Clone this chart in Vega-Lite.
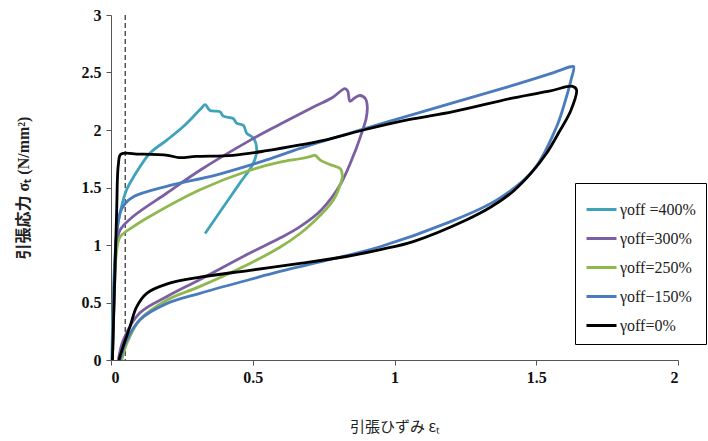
{
  "$schema": "https://vega.github.io/schema/vega-lite/v6.json",
  "width": 567,
  "height": 345,
  "autosize": {"type": "none"},
  "padding": {"left": 111, "top": 15, "right": 30, "bottom": 81},
  "config": {"view": {"stroke": null}},
  "datasets": {
    "curves": [
      {"s":"γoff =400%","i":0,"x":0.003,"y":0},{"s":"γoff =400%","i":1,"x":0.01,"y":0.7},{"s":"γoff =400%","i":2,"x":0.02,"y":1.1},{"s":"γoff =400%","i":3,"x":0.032,"y":1.28},{"s":"γoff =400%","i":4,"x":0.055,"y":1.48},{"s":"γoff =400%","i":5,"x":0.079,"y":1.59},{"s":"γoff =400%","i":6,"x":0.138,"y":1.8},{"s":"γoff =400%","i":7,"x":0.196,"y":1.91},{"s":"γoff =400%","i":8,"x":0.255,"y":2.03},{"s":"γoff =400%","i":9,"x":0.315,"y":2.18},{"s":"γoff =400%","i":10,"x":0.332,"y":2.22},{"s":"γoff =400%","i":11,"x":0.349,"y":2.17},{"s":"γoff =400%","i":12,"x":0.384,"y":2.16},{"s":"γoff =400%","i":13,"x":0.396,"y":2.12},{"s":"γoff =400%","i":14,"x":0.431,"y":2.1},{"s":"γoff =400%","i":15,"x":0.443,"y":2.06},{"s":"γoff =400%","i":16,"x":0.467,"y":2.04},{"s":"γoff =400%","i":17,"x":0.479,"y":1.97},{"s":"γoff =400%","i":18,"x":0.502,"y":1.93},{"s":"γoff =400%","i":19,"x":0.514,"y":1.83},{"s":"γoff =400%","i":20,"x":0.502,"y":1.71},{"s":"γoff =400%","i":21,"x":0.455,"y":1.54},{"s":"γoff =400%","i":22,"x":0.396,"y":1.33},{"s":"γoff =400%","i":23,"x":0.332,"y":1.1},

      {"s":"γoff=300%","i":0,"x":0.005,"y":0},{"s":"γoff=300%","i":1,"x":0.012,"y":0.6},{"s":"γoff=300%","i":2,"x":0.02,"y":1.0},{"s":"γoff=300%","i":3,"x":0.032,"y":1.13},{"s":"γoff=300%","i":4,"x":0.079,"y":1.25},{"s":"γoff=300%","i":5,"x":0.196,"y":1.45},{"s":"γoff=300%","i":6,"x":0.314,"y":1.65},{"s":"γoff=300%","i":7,"x":0.49,"y":1.91},{"s":"γoff=300%","i":8,"x":0.596,"y":2.05},{"s":"γoff=300%","i":9,"x":0.714,"y":2.2},{"s":"γoff=300%","i":10,"x":0.78,"y":2.28},{"s":"γoff=300%","i":11,"x":0.825,"y":2.36},{"s":"γoff=300%","i":12,"x":0.835,"y":2.34},{"s":"γoff=300%","i":13,"x":0.843,"y":2.25},{"s":"γoff=300%","i":14,"x":0.86,"y":2.28},{"s":"γoff=300%","i":15,"x":0.878,"y":2.3},{"s":"γoff=300%","i":16,"x":0.898,"y":2.27},{"s":"γoff=300%","i":17,"x":0.904,"y":2.2},{"s":"γoff=300%","i":18,"x":0.9,"y":2.1},{"s":"γoff=300%","i":19,"x":0.885,"y":1.98},{"s":"γoff=300%","i":20,"x":0.865,"y":1.84},{"s":"γoff=300%","i":21,"x":0.81,"y":1.53},{"s":"γoff=300%","i":22,"x":0.74,"y":1.3},{"s":"γoff=300%","i":23,"x":0.667,"y":1.16},{"s":"γoff=300%","i":24,"x":0.596,"y":1.06},{"s":"γoff=300%","i":25,"x":0.49,"y":0.93},{"s":"γoff=300%","i":26,"x":0.314,"y":0.7},{"s":"γoff=300%","i":27,"x":0.196,"y":0.55},{"s":"γoff=300%","i":28,"x":0.102,"y":0.41},{"s":"γoff=300%","i":29,"x":0.043,"y":0.17},{"s":"γoff=300%","i":30,"x":0.026,"y":0},

      {"s":"γoff=250%","i":0,"x":0.005,"y":0},{"s":"γoff=250%","i":1,"x":0.012,"y":0.6},{"s":"γoff=250%","i":2,"x":0.02,"y":0.95},{"s":"γoff=250%","i":3,"x":0.032,"y":1.07},{"s":"γoff=250%","i":4,"x":0.079,"y":1.16},{"s":"γoff=250%","i":5,"x":0.138,"y":1.25},{"s":"γoff=250%","i":6,"x":0.314,"y":1.48},{"s":"γoff=250%","i":7,"x":0.49,"y":1.65},{"s":"γoff=250%","i":8,"x":0.596,"y":1.72},{"s":"γoff=250%","i":9,"x":0.667,"y":1.75},{"s":"γoff=250%","i":10,"x":0.705,"y":1.77},{"s":"γoff=250%","i":11,"x":0.72,"y":1.78},{"s":"γoff=250%","i":12,"x":0.737,"y":1.74},{"s":"γoff=250%","i":13,"x":0.772,"y":1.7},{"s":"γoff=250%","i":14,"x":0.81,"y":1.66},{"s":"γoff=250%","i":15,"x":0.816,"y":1.6},{"s":"γoff=250%","i":16,"x":0.812,"y":1.55},{"s":"γoff=250%","i":17,"x":0.784,"y":1.39},{"s":"γoff=250%","i":18,"x":0.714,"y":1.2},{"s":"γoff=250%","i":19,"x":0.667,"y":1.1},{"s":"γoff=250%","i":20,"x":0.596,"y":0.98},{"s":"γoff=250%","i":21,"x":0.49,"y":0.84},{"s":"γoff=250%","i":22,"x":0.314,"y":0.64},{"s":"γoff=250%","i":23,"x":0.196,"y":0.52},{"s":"γoff=250%","i":24,"x":0.102,"y":0.35},{"s":"γoff=250%","i":25,"x":0.055,"y":0.14},{"s":"γoff=250%","i":26,"x":0.038,"y":0},

      {"s":"γoff−150%","i":0,"x":0.005,"y":0},{"s":"γoff−150%","i":1,"x":0.012,"y":0.7},{"s":"γoff−150%","i":2,"x":0.02,"y":1.1},{"s":"γoff−150%","i":3,"x":0.032,"y":1.28},{"s":"γoff−150%","i":4,"x":0.05,"y":1.36},{"s":"γoff−150%","i":5,"x":0.079,"y":1.42},{"s":"γoff−150%","i":6,"x":0.196,"y":1.51},{"s":"γoff−150%","i":7,"x":0.373,"y":1.61},{"s":"γoff−150%","i":8,"x":0.549,"y":1.74},{"s":"γoff−150%","i":9,"x":0.667,"y":1.84},{"s":"γoff−150%","i":10,"x":0.878,"y":2.0},{"s":"γoff−150%","i":11,"x":1.03,"y":2.11},{"s":"γoff−150%","i":12,"x":1.184,"y":2.22},{"s":"γoff−150%","i":13,"x":1.42,"y":2.39},{"s":"γoff−150%","i":14,"x":1.55,"y":2.49},{"s":"γoff−150%","i":15,"x":1.622,"y":2.55},{"s":"γoff−150%","i":16,"x":1.632,"y":2.55},{"s":"γoff−150%","i":17,"x":1.622,"y":2.43},{"s":"γoff−150%","i":18,"x":1.602,"y":2.25},{"s":"γoff−150%","i":19,"x":1.572,"y":2.03},{"s":"γoff−150%","i":20,"x":1.49,"y":1.65},{"s":"γoff−150%","i":21,"x":1.36,"y":1.39},{"s":"γoff−150%","i":22,"x":1.184,"y":1.19},{"s":"γoff−150%","i":23,"x":0.949,"y":0.985},{"s":"γoff−150%","i":24,"x":0.714,"y":0.84},{"s":"γoff−150%","i":25,"x":0.596,"y":0.77},{"s":"γoff−150%","i":26,"x":0.49,"y":0.7},{"s":"γoff−150%","i":27,"x":0.314,"y":0.58},{"s":"γoff−150%","i":28,"x":0.196,"y":0.49},{"s":"γoff−150%","i":29,"x":0.102,"y":0.35},{"s":"γoff−150%","i":30,"x":0.055,"y":0.17},{"s":"γoff−150%","i":31,"x":0.032,"y":0},

      {"s":"γoff=0%","i":0,"x":0.005,"y":0},{"s":"γoff=0%","i":1,"x":0.012,"y":0.6},{"s":"γoff=0%","i":2,"x":0.02,"y":1.3},{"s":"γoff=0%","i":3,"x":0.026,"y":1.7},{"s":"γoff=0%","i":4,"x":0.035,"y":1.79},{"s":"γoff=0%","i":5,"x":0.1,"y":1.79},{"s":"γoff=0%","i":6,"x":0.2,"y":1.78},{"s":"γoff=0%","i":7,"x":0.24,"y":1.76},{"s":"γoff=0%","i":8,"x":0.3,"y":1.77},{"s":"γoff=0%","i":9,"x":0.43,"y":1.78},{"s":"γoff=0%","i":10,"x":0.55,"y":1.82},{"s":"γoff=0%","i":11,"x":0.667,"y":1.87},{"s":"γoff=0%","i":12,"x":0.75,"y":1.91},{"s":"γoff=0%","i":13,"x":0.89,"y":2.0},{"s":"γoff=0%","i":14,"x":1.05,"y":2.09},{"s":"γoff=0%","i":15,"x":1.207,"y":2.16},{"s":"γoff=0%","i":16,"x":1.42,"y":2.28},{"s":"γoff=0%","i":17,"x":1.55,"y":2.34},{"s":"γoff=0%","i":18,"x":1.628,"y":2.38},{"s":"γoff=0%","i":19,"x":1.642,"y":2.35},{"s":"γoff=0%","i":20,"x":1.622,"y":2.17},{"s":"γoff=0%","i":21,"x":1.58,"y":1.98},{"s":"γoff=0%","i":22,"x":1.537,"y":1.8},{"s":"γoff=0%","i":23,"x":1.48,"y":1.62},{"s":"γoff=0%","i":24,"x":1.42,"y":1.47},{"s":"γoff=0%","i":25,"x":1.34,"y":1.33},{"s":"γoff=0%","i":26,"x":1.255,"y":1.22},{"s":"γoff=0%","i":27,"x":1.066,"y":1.03},{"s":"γoff=0%","i":28,"x":0.95,"y":0.96},{"s":"γoff=0%","i":29,"x":0.83,"y":0.9},{"s":"γoff=0%","i":30,"x":0.667,"y":0.84},{"s":"γoff=0%","i":31,"x":0.49,"y":0.78},{"s":"γoff=0%","i":32,"x":0.314,"y":0.72},{"s":"γoff=0%","i":33,"x":0.196,"y":0.66},{"s":"γoff=0%","i":34,"x":0.126,"y":0.58},{"s":"γoff=0%","i":35,"x":0.09,"y":0.46},{"s":"γoff=0%","i":36,"x":0.067,"y":0.29},{"s":"γoff=0%","i":37,"x":0.043,"y":0.12},{"s":"γoff=0%","i":38,"x":0.028,"y":0}
    ],
    "marker": [{"x": 0.05}]
  },
  "layer": [
    {
      "data": {"name": "marker"},
      "mark": {"type": "rule", "stroke": "black", "strokeWidth": 1, "strokeDash": [5, 3]},
      "encoding": {"x": {"field": "x", "type": "quantitative", "scale": {"domain": [0, 2]}}}
    },
    {
      "data": {"name": "curves"},
      "mark": {"type": "line", "strokeWidth": 2.8, "interpolate": "catmull-rom"},
      "encoding": {
        "x": {
          "field": "x", "type": "quantitative",
          "scale": {"domain": [0, 2], "nice": false, "zero": true},
          "axis": {
            "title": "引張ひずみ εₜ",
            "values": [0, 0.5, 1, 1.5, 2],
            "format": "~g",
            "grid": false,
            "domainColor": "#555", "tickColor": "#555", "tickSize": 5,
            "labelFont": "Times New Roman, Liberation Serif, serif", "labelFontSize": 16, "labelFontWeight": "bold", "labelColor": "#111",
            "labelPadding": 4,
            "titleFont": "Noto Sans CJK JP", "titleFontSize": 15, "titleFontWeight": "normal", "titleColor": "#222",
            "titlePadding": 34
          }
        },
        "y": {
          "field": "y", "type": "quantitative",
          "scale": {"domain": [0, 3], "nice": false},
          "axis": {
            "title": "引張応力 σₜ (N/mm²)",
            "values": [0, 0.5, 1, 1.5, 2, 2.5, 3],
            "format": "~g",
            "grid": false,
            "domainColor": "#555", "tickColor": "#555", "tickSize": 5,
            "labelFont": "Times New Roman, Liberation Serif, serif", "labelFontSize": 16, "labelFontWeight": "bold", "labelColor": "#111",
            "labelPadding": 5,
            "titleFont": "Times New Roman, Liberation Serif, Noto Sans CJK JP, serif", "titleFontSize": 16, "titleFontWeight": "bold", "titleColor": "#222",
            "titlePadding": 50
          }
        },
        "color": {
          "field": "s", "type": "nominal",
          "scale": {
            "domain": ["γoff =400%", "γoff=300%", "γoff=250%", "γoff−150%", "γoff=0%"],
            "range": ["#3fa3ba", "#7c5fa3", "#8fb84e", "#4a7bbd", "#000000"]
          },
          "legend": {
            "title": null,
            "orient": "none",
            "legendX": 464,
            "legendY": 168,
            "symbolType": "stroke",
            "symbolSize": 900,
            "symbolStrokeWidth": 3,
            "labelFont": "Times New Roman, Liberation Serif, serif",
            "labelFontSize": 16,
            "labelColor": "#222",
            "labelOffset": 2,
            "rowPadding": 4,
            "padding": 10,
            "fillColor": "white",
            "strokeColor": "black",
            "labelLimit": 200
          }
        },
        "order": {"field": "i", "type": "quantitative"}
      }
    }
  ]
}
